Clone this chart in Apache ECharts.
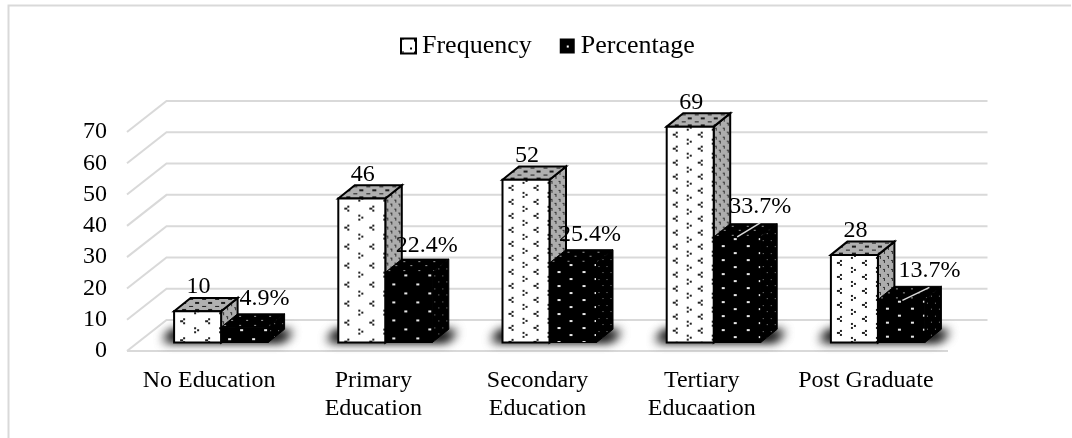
<!DOCTYPE html>
<html>
<head>
<meta charset="utf-8">
<style>html,body{margin:0;padding:0;background:#fff}#chart{width:1072px;height:438px}</style>
<script src="https://cdn.jsdelivr.net/npm/echarts@6/dist/echarts.min.js"></script>
</head>
<body>
<div id="chart"></div>
<script>
// Education level survey: head counts and their shares
const categories = ['No Education', 'Primary\nEducation', 'Secondary\nEducation', 'Tertiary\nEducaation', 'Post Graduate'];
const frequency = [10, 46, 52, 69, 28];
const percentage = [4.9, 22.4, 25.4, 33.7, 13.7];
const yTicks = [0, 10, 20, 30, 40, 50, 60, 70];

// Box geometry in pixels
const FONT = '"Liberation Serif", "Times New Roman", serif';
const BAR_W = 47, DEPTH_X = 16.5, DEPTH_Y = 13.3, LIFT = 8.5, CENTER_SHIFT = 12;
const WALL_X = 39.5, WALL_Y = 31;
// Per-bar fill stretch and label nudges
const freqTile = [[24.5, 18.5], [24.5, 18.5], [25, 14], [25, 14], [25, 14]];
const pctTile = [[24, 18], [24, 18], [25, 14], [25, 14], [25, 14]];
const pctLabelNudge = [[20, -15], [18, -13], [17, -15], [23, -17], [28, -16]];
const leaders = [null, null, null, [[0, 13], [23, -1]], [[1, 14], [28, 1]]];

function makeCanvas(w, h, bg, draw) {
  const c = document.createElement('canvas');
  c.width = Math.round(w); c.height = Math.round(h);
  const g = c.getContext('2d');
  g.fillStyle = bg; g.fillRect(0, 0, c.width, c.height);
  draw(g, c.width, c.height);
  return c;
}
function chevron(g, x, y, dir) {
  g.fillRect(x, y - 3, 2, 2);
  g.fillRect(x - 3 * dir, y - 1, 3, 2);
  g.fillRect(x, y + 1, 2, 2);
}
function freqFrontTile(w, h) {
  return makeCanvas(w, h, '#ffffff', (g, W, H) => {
    g.fillStyle = '#222';
    chevron(g, 9, Math.round(H * 0.25), 1);
    chevron(g, Math.round(W / 2 + 7), Math.round(H * 0.75), -1);
  });
}
const sideTile = makeCanvas(8, 9, '#adadad', g => {
  g.fillStyle = '#333';
  g.fillRect(1, 1, 2, 1); g.fillRect(2, 2, 1, 2);
  g.fillRect(5, 5, 2, 1); g.fillRect(6, 6, 1, 2);
});
const topTile = makeCanvas(13, 7, '#b0b0b0', g => {
  g.fillStyle = '#1c1c1c';
  g.fillRect(2, 1, 4, 1); g.fillRect(8, 4, 4, 2);
});
function pctFrontTile(w, h) {
  return makeCanvas(w, h, '#000000', (g, W, H) => {
    g.fillStyle = '#e8e8e8';
    g.fillRect(Math.round(W * 0.3), Math.round(H * 0.6), 3, 2);
    g.fillRect(Math.round(W * 0.8), Math.round(H * 0.1), 3, 2);
  });
}
const pctSideTile = makeCanvas(8, 13, '#000000', g => {
  g.fillStyle = '#8a8a8a';
  g.fillRect(2, 3, 1, 1); g.fillRect(6, 9, 1, 1);
});
const pctTopTile = makeCanvas(15, 9, '#000000', g => {
  g.fillStyle = '#9a9a9a';
  g.fillRect(3, 2, 2, 1); g.fillRect(10, 6, 2, 1);
});
const legendFreq = makeCanvas(13, 13, '#ffffff', g => {
  g.fillStyle = '#000';
  g.fillRect(0, 0, 3, 1); g.fillRect(0, 0, 1, 3); g.fillRect(9, 9, 2, 2);
});
const legendPct = makeCanvas(15, 15, '#000000', g => {
  g.fillStyle = '#fff';
  g.fillRect(7, 7, 2, 2);
});

// One pseudo-3D box: front, side and top faces around a value point
function box(left, top, base, front, side, topFill, stroke) {
  const right = left + BAR_W;
  const f = { stroke: '#000', lineWidth: stroke };
  return [
    { type: 'polygon', shape: { points: [[right, top], [right + DEPTH_X, top - DEPTH_Y], [right + DEPTH_X, base - DEPTH_Y], [right, base]] },
      style: Object.assign({ fill: { image: side, repeat: 'repeat', x: right, y: top } }, f) },
    { type: 'polygon', shape: { points: [[left, top], [left + DEPTH_X, top - DEPTH_Y], [right + DEPTH_X, top - DEPTH_Y], [right, top]] },
      style: Object.assign({ fill: { image: topFill, repeat: 'repeat', x: left, y: top - DEPTH_Y } }, f) },
    { type: 'rect', shape: { x: left, y: top, width: BAR_W, height: base - top },
      style: Object.assign({ fill: { image: front.image, repeat: 'repeat', x: left, y: top + (front.shift || 0) } }, f) }
  ];
}
function valueText(x, y, text) {
  return { type: 'text', z2: 10, style: { x, y, text, font: '24px ' + FONT, fill: '#000', align: 'center', verticalAlign: 'middle' } };
}

const OFFSCREEN = 4000;
const series = [
  {
    // Back wall, side wall and floor rules
    type: 'custom', name: 'walls', silent: true, z: 1, clip: false,
    data: yTicks.map(v => [0, v]),
    encode: { x: 0, y: 1 },
    renderItem(params, api) {
      const cs = params.coordSys;
      const y = api.coord([0, api.value(1)])[1];
      const x0 = cs.x, x1 = cs.x + WALL_X, x2 = cs.x + cs.width + WALL_X;
      const line = { stroke: '#d9d9d9', lineWidth: 2, fill: null };
      const kids = [{ type: 'polyline', shape: { points: [[x0, y], [x1, y - WALL_Y], [x2, y - WALL_Y]] }, style: line }];
      if (api.value(1) === 0) {
        kids.push({ type: 'line', shape: { x1: x0, y1: y, x2: cs.x + cs.width, y2: y }, style: line });
      }
      return { type: 'group', children: kids };
    }
  },
  {
    // Soft floor shadow beneath each pair of boxes
    type: 'custom', name: 'shadow', silent: true, z: 2, clip: false,
    data: frequency.map((v, i) => [i, 0]),
    encode: { x: 0, y: 1 },
    renderItem(params, api) {
      const c = api.coord([api.value(0), 0]);
      const mid = c[0] + CENTER_SHIFT, base = c[1] - LIFT;
      const l = mid - BAR_W, r = mid + BAR_W;
      const points = [[l - 11, base - 2], [l - 2, base - 11], [r + DEPTH_X + 8, base - 11], [r + 14, base - 2]];
      const layer = {
        type: 'polygon', x: -OFFSCREEN, shape: { points },
        style: { fill: '#000', shadowColor: '#000', shadowBlur: 11, shadowOffsetX: OFFSCREEN }
      };
      return { type: 'group', children: [layer, Object.assign({}, layer)] };
    }
  },
  {
    type: 'custom', name: 'Frequency', z: 3, clip: false,
    data: frequency.map((v, i) => [i, v]),
    encode: { x: 0, y: 1 },
    itemStyle: { color: { image: legendFreq, repeat: 'repeat' }, borderColor: '#000', borderWidth: 2 },
    renderItem(params, api) {
      const i = api.value(0), v = api.value(1);
      const p = api.coord([i, v]), b = api.coord([i, 0]);
      const mid = p[0] + CENTER_SHIFT, left = mid - BAR_W;
      const top = p[1] - LIFT, base = b[1] - LIFT;
      const t = freqTile[i];
      const kids = box(left, top, base, { image: freqFrontTile(t[0], t[1]), shift: Math.round(t[1] / 4) }, sideTile, topTile, 2);
      kids.push(valueText(left + BAR_W / 2 + 1, top - DEPTH_Y - 11, String(v)));
      return { type: 'group', children: kids };
    }
  },
  {
    type: 'custom', name: 'Percentage', z: 4, clip: false,
    data: percentage.map((v, i) => [i, v]),
    encode: { x: 0, y: 1 },
    itemStyle: { color: { image: legendPct, repeat: 'repeat' }, borderColor: '#000', borderWidth: 0 },
    renderItem(params, api) {
      const i = api.value(0), v = api.value(1);
      const p = api.coord([i, v]), b = api.coord([i, 0]);
      const mid = p[0] + CENTER_SHIFT;
      const top = p[1] - LIFT, base = b[1] - LIFT;
      const t = pctTile[i];
      const kids = box(mid, top, base, { image: pctFrontTile(t[0], t[1]) }, pctSideTile, pctTopTile, 1);
      const cx = mid + BAR_W / 2, backTop = top - DEPTH_Y;
      const n = pctLabelNudge[i];
      if (leaders[i]) {
        const a = leaders[i][0], e = leaders[i][1];
        kids.push({ type: 'line', z2: 9, shape: { x1: cx + a[0], y1: backTop + a[1], x2: cx + e[0], y2: backTop + e[1] }, style: { stroke: '#d9d9d9', lineWidth: 1.5 } });
      }
      kids.push(valueText(cx + n[0], backTop + n[1], v.toFixed(1) + '%'));
      return { type: 'group', children: kids };
    }
  }
];

const chart = echarts.init(document.getElementById('chart'), null, { renderer: 'canvas' });
chart.setOption({
  animation: false,
  backgroundColor: '#ffffff',
  graphic: [{
    type: 'polyline', silent: true,
    shape: { points: [[8.5, 438], [8.5, 5.5], [1071, 5.5]] },
    style: { stroke: '#d9d9d9', lineWidth: 2, fill: null }
  }],
  legend: {
    left: 395, top: 28, itemWidth: 15, itemHeight: 15, itemGap: 28,
    data: [{ name: 'Frequency', icon: 'rect' }, { name: 'Percentage', icon: 'rect' }],
    textStyle: { fontFamily: FONT, fontSize: 26, color: '#000', padding: [0, 0, 0, 1] }
  },
  grid: { left: 127, right: 124, top: 132, bottom: 87 },
  xAxis: {
    type: 'category', data: categories,
    axisLine: { show: false }, axisTick: { show: false }, splitLine: { show: false },
    axisLabel: { interval: 0, margin: 16, fontFamily: FONT, fontSize: 24, color: '#000', lineHeight: 28, hideOverlap: false }
  },
  yAxis: {
    type: 'value', min: 0, max: 70, interval: 10,
    axisLine: { show: false }, axisTick: { show: false }, splitLine: { show: false },
    axisLabel: { margin: 20, fontFamily: FONT, fontSize: 24, color: '#000' }
  },
  series
});
</script>
</body>
</html>
